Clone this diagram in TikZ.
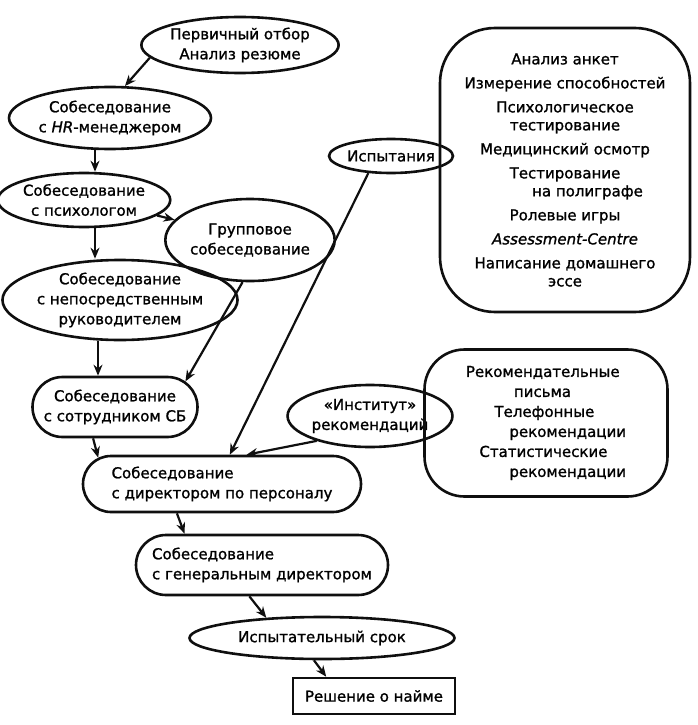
\documentclass[tikz,border=0pt]{standalone}
\usepackage{fontspec}
\setmainfont[FakeBold=1.2]{DejaVu Sans}
\usetikzlibrary{arrows.meta,shapes.geometric,shapes.misc,positioning}
\definecolor{ink}{RGB}{15,15,15}
\def\XcolA{95}
\def\XcolB{98}
\tikzset{
  stage/.style={
    draw=ink, ellipse, line width=2.6pt,
    align=center, font=\fontsize{15}{20}\selectfont, inner sep=0pt,
  },
  pill/.style={
    draw=ink, rounded rectangle, line width=2.6pt,
    align=left, font=\fontsize{15}{20}\selectfont, inner sep=0pt,
  },
  pool/.style={
    draw=ink, rectangle, rounded corners=#1, line width=2.6pt,
    align=center, font=\fontsize{15}{18}\selectfont, inner sep=0pt,
  },
  pool/.default=50pt,
  verdict/.style={
    draw=ink, rectangle, line width=2.6pt, font=\fontsize{15}{18}\selectfont,
    minimum width=162pt, minimum height=36pt, inner sep=0pt,
  },
  arr/.style={-{Stealth[length=11pt,width=9pt]}, line width=2.2pt, draw=ink},
}

\begin{document}
\begin{tikzpicture}[x=1pt,y=-1pt]
  \useasboundingbox (0,0) rectangle (697,725);

  \node[stage, minimum width=168pt, minimum height=56pt] (otbor) at (240,45) {Первичный отбор\\Анализ резюме};
  \node[stage, minimum width=160pt, minimum height=62pt] (hr) at (110,118) {Собеседование\\с \textit{HR}-менеджером};
  \node[stage, minimum width=150pt, minimum height=54pt] (psy) at (84,200) {Собеседование\\с психологом};
  \node[stage, minimum width=136pt, minimum height=82pt] (grp) at (250,240) {Групповое\\собеседование};
  \node[stage, minimum width=192pt, minimum height=80pt] (ruk) at (120,300) {Собеседование\\с непосредственным\\руководителем};
  \node[pill, align=center, minimum width=165pt, minimum height=60pt] (sb) at (115,407) {Собеседование\\с сотрудником СБ};
  \node[pill, minimum width=278pt, minimum height=56pt] (dir) at (222,484) {Собеседование\\с директором по персоналу};
  \node[pill, minimum width=252pt, minimum height=60pt] (gen) at (262,565) {Собеседование\\с генеральным директором};
  \node[stage, minimum width=265pt, minimum height=42pt] (srok) at (322,638) {Испытательный срок};
  \node[verdict] (naim) at (374,696) {Решение о найме};

  \node[stage, minimum width=96pt, minimum height=34pt] (ispyt) at (391,156) {Испытания};
  \node[pool=55pt, minimum width=250pt, minimum height=284pt] (metody) at (565,170) {%
    Анализ анкет\\[6pt]
    Измерение способностей\\[6pt]
    Психологическое\\тестирование\\[6pt]
    Медицинский осмотр\\[6pt]
    Тестирование\\\hspace*{3em}на полиграфе\\[6pt]
    Ролевые игры\\[6pt]
    \textit{Assessment-Centre}\\[6pt]
    Написание домашнего\\эссе};
  \node[stage, minimum width=140pt, minimum height=62pt] (inst) at (370,416) {«Институт»\\рекомендаций};
  \node[pool=40pt, align=left, font=\fontsize{15}{20}\selectfont, minimum width=243pt, minimum height=147pt] (vidy) at (546,423) {%
    Рекомендательные\\
    \hspace*{3.2em}письма\\
    \hspace*{1.9em}Телефонные\\
    \hspace*{2.9em}рекомендации\\
    \hspace*{0.9em}Статистические\\
    \hspace*{2.9em}рекомендации};

  \draw[arr] (otbor.188) -- (hr.65);
  \draw[arr] (hr.south -| \XcolA,0) -- (psy.north -| \XcolA,0);
  \draw[arr] (psy.-12) -- (grp.165);
  \draw[arr] (psy.south -| \XcolA,0) -- (ruk.north -| \XcolA,0);
  \draw[arr] (ruk.south -| \XcolB,0) -- (sb.north -| \XcolB,0);
  \draw[arr] (grp.-100) -- (sb.20);
  \draw[arr] (ispyt.-143) -- (dir.75);
  \draw[arr] (inst.205) -- (dir.50);
  \draw[arr] (sb.-125) -- (dir.168);
  \draw[arr] (dir.-147) -- (gen.158);
  \draw[arr] (gen.-112) -- (srok.160);
  \draw[arr] (srok.-110) -- (naim.158);
\end{tikzpicture}
\end{document}
